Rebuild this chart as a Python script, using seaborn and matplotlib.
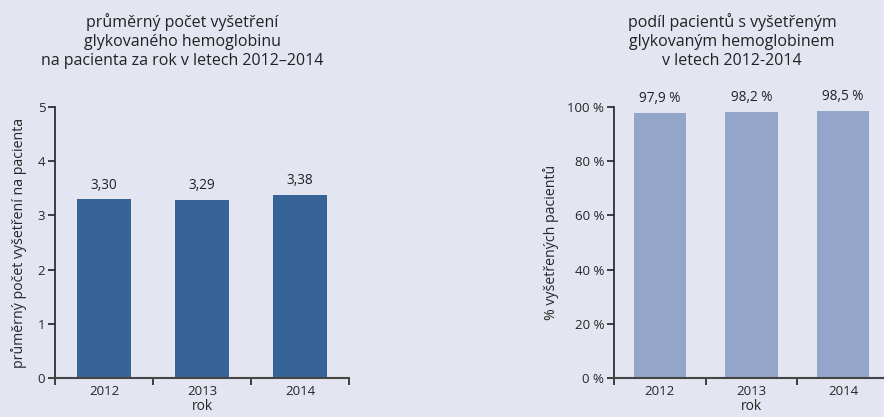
import numpy as np
import pandas as pd
import seaborn as sns
import matplotlib.pyplot as plt

years = ['2012', '2013', '2014']
avg_tests = [3.30, 3.29, 3.38]
pct_tested = [97.9, 98.2, 98.5]

avg_labels = ['3,30', '3,29', '3,38']
pct_labels = ['97,9 %', '98,2 %', '98,5 %']

bg = '#e3e6f1'
sns.set_theme(style='ticks')
plt.rcParams['font.family'] = ['Open Sans', 'DejaVu Sans']
plt.rcParams['axes.facecolor'] = bg
plt.rcParams['figure.facecolor'] = bg

df = pd.DataFrame({'rok': years, 'avg': avg_tests, 'pct': pct_tested})

fig = plt.figure(figsize=(8.84, 4.17), dpi=100)
ax1 = fig.add_axes([0.0622, 0.0935, 0.3326, 0.65])
ax2 = fig.add_axes([0.6946, 0.0935, 0.311, 0.65])


def style_axis(ax):
    ax.set_xlim(-0.5, 2.5)
    ax.set_xticks([0, 1, 2])
    ax.set_xticklabels(years, fontsize=9.5)
    # ticks sit on category boundaries
    ax.set_xticks([-0.5, 0.5, 1.5, 2.5], minor=True)
    ax.tick_params(axis='x', which='major', length=0, pad=5)
    ax.tick_params(axis='x', which='minor', length=5, width=1.2, color='#222222')
    ax.tick_params(axis='y', length=5, width=1.2, color='#222222', labelsize=9.5, pad=2)
    for s in ['top', 'right']:
        ax.spines[s].set_visible(False)
    ax.spines['left'].set_color('#222222')
    ax.spines['bottom'].set_color('#444444')
    ax.spines['left'].set_linewidth(1.2)
    ax.spines['bottom'].set_linewidth(1.5)


# left chart
sns.barplot(data=df, x='rok', y='avg', color='#376496', saturation=1, width=0.56,
            linewidth=0, ax=ax1)
ax1.set_ylim(0, 5)
ax1.set_yticks([0, 1, 2, 3, 4, 5])
style_axis(ax1)
for i, v in enumerate(avg_tests):
    ax1.text(i, v + 0.12, avg_labels[i], ha='center', va='bottom', fontsize=9.8, color='#222222')
ax1.set_xlabel('rok', fontsize=10, labelpad=1)
ax1.set_ylabel('průměrný počet vyšetření na pacienta', fontsize=10.2, labelpad=8)
fig.text(0.206, 0.968, 'průměrný počet vyšetření\nglykovaného hemoglobinu\nna pacienta za rok v letech 2012–2014',
         ha='center', va='top', fontsize=11.5, linespacing=1.25, color='#222222')

# right chart
sns.barplot(data=df, x='rok', y='pct', color='#93a6c9', saturation=1, width=0.57,
            linewidth=0, ax=ax2)
ax2.set_ylim(0, 100)
ax2.set_yticks([0, 20, 40, 60, 80, 100])
ax2.set_yticklabels(['0 %', '20 %', '40 %', '60 %', '80 %', '100 %'])
style_axis(ax2)
for i, v in enumerate(pct_tested):
    ax2.text(i, v + 2.5, pct_labels[i], ha='center', va='bottom', fontsize=9.8, color='#222222')
ax2.set_xlabel('rok', fontsize=10, labelpad=1)
ax2.set_ylabel('% vyšetřených pacientů', fontsize=10.2, labelpad=6)
fig.text(0.828, 0.968, 'podíl pacientů s vyšetřeným\nglykovaným hemoglobinem\nv letech 2012-2014',
         ha='center', va='top', fontsize=11.5, linespacing=1.25, color='#222222')

fig.savefig('out.png', dpi=100, facecolor=bg)
